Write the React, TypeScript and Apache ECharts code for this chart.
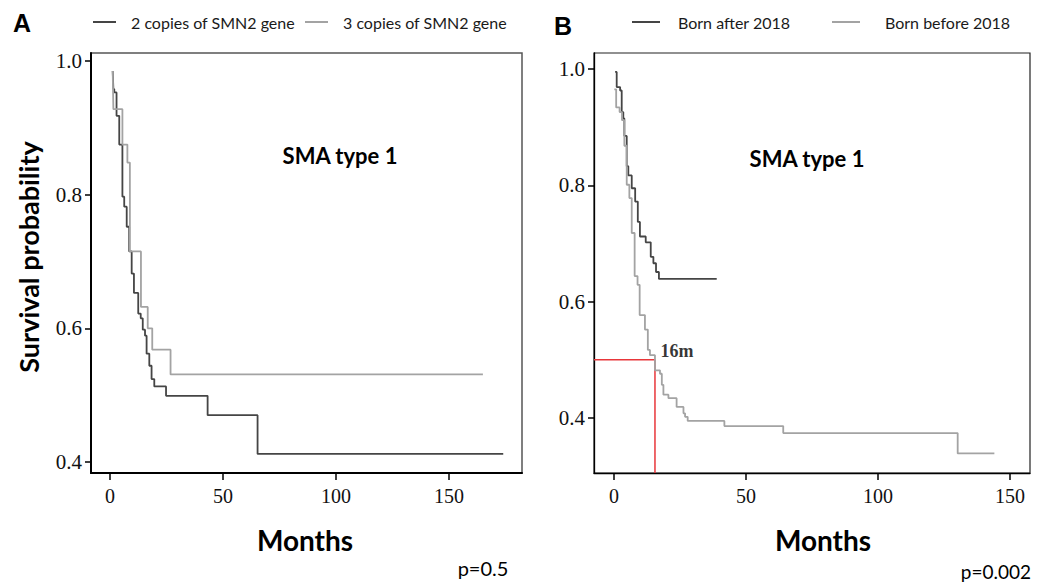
import { useEffect, useRef } from "react";
import * as echarts from "echarts";

// Panel A: SMN2 copy number (months, survival probability)
const twoCopies: [number, number][] = [
  [1.2, 0.985], [1.5, 0.958], [1.9, 0.953], [2.9, 0.918], [4.1, 0.875], [5.5, 0.797],
  [6.3, 0.782], [7.4, 0.752], [8.5, 0.715], [9.6, 0.682], [10.6, 0.653], [12.5, 0.622],
  [13.6, 0.615], [14.5, 0.598], [15.5, 0.589], [16.2, 0.562], [17.4, 0.544], [18.4, 0.524],
  [19.6, 0.513], [24.8, 0.499], [43.2, 0.470], [65.3, 0.412], [174, 0.412],
];
const threeCopies: [number, number][] = [
  [1.2, 0.985], [1.5, 0.928], [5.5, 0.875], [7.7, 0.848], [8.8, 0.715], [13.7, 0.632],
  [16.7, 0.600], [18.7, 0.568], [26.8, 0.531], [165, 0.531],
];

// Panel B: birth cohort
const bornAfter: [number, number][] = [
  [0.4, 0.995], [1.0, 0.969], [2.3, 0.963], [2.9, 0.926], [3.5, 0.915], [3.9, 0.885],
  [4.8, 0.833], [5.4, 0.817], [6.7, 0.795], [8.0, 0.772], [9.0, 0.737], [9.8, 0.712],
  [12.0, 0.702], [13.9, 0.677], [14.9, 0.666], [15.9, 0.651], [17.0, 0.639], [38.9, 0.639],
];
const bornBefore: [number, number][] = [
  [0.1, 0.965], [0.8, 0.934], [2.1, 0.926], [3.0, 0.912], [3.9, 0.868], [4.8, 0.801],
  [5.8, 0.778], [6.7, 0.718], [7.8, 0.644], [8.9, 0.629], [9.7, 0.577], [11.7, 0.552],
  [12.8, 0.517], [13.6, 0.508], [15.5, 0.482], [17.4, 0.476], [18.1, 0.457], [18.7, 0.440],
  [20.6, 0.434], [23.7, 0.419], [26.3, 0.408], [26.9, 0.402], [27.9, 0.395], [41.8, 0.386],
  [64.1, 0.374], [130.2, 0.339], [144.1, 0.339],
];

const medianMonths = 15.5;
const medianSurvival = 0.5;
const medianLabel = "16m";

const monthTicks = [0, 50, 100, 150];
const survTicks = [0.4, 0.6, 0.8, 1.0];

const legendA = ["2 copies of SMN2 gene", "3 copies of SMN2 gene"];
const legendB = ["Born after 2018", "Born before 2018"];

const DARK = "#454545";
const LIGHT = "#a3a3a3";
const SANS = "Lato, 'Open Sans', sans-serif";
const SERIF = "'Liberation Serif', 'DejaVu Serif', serif";

export default function App() {
  const ref = useRef<HTMLDivElement>(null);
  useEffect(() => {
    const chart = echarts.init(ref.current!, null, { renderer: "svg" });
    const xAxisBase = (gridIndex: number, min: number, max: number, lw: number) => ({
      type: "value",
      gridIndex,
      min,
      max,
      axisLine: { show: true, onZero: false, lineStyle: { color: "#000", width: lw } },
      axisTick: { show: true, customValues: monthTicks, length: 7, lineStyle: { color: "#000", width: 1.5 } },
      axisLabel: { customValues: monthTicks, fontFamily: SERIF, fontSize: 20, color: "#111", margin: 13 },
      splitLine: { show: false },
    });
    const yAxisBase = (gridIndex: number, min: number, max: number, lw: number) => ({
      type: "value",
      gridIndex,
      min,
      max,
      axisLine: { show: true, onZero: false, lineStyle: { color: "#000", width: lw } },
      axisTick: { show: true, customValues: survTicks, length: 6, lineStyle: { color: "#000", width: 1.5 } },
      axisLabel: {
        customValues: survTicks,
        fontFamily: SERIF,
        fontSize: 21,
        color: "#111",
        margin: 9,
        formatter: (v: number) => v.toFixed(1),
      },
      splitLine: { show: false },
    });
    const stepSeries = (name: string, data: [number, number][], color: string, idx: number) => ({
      name,
      type: "line",
      step: "end",
      xAxisIndex: idx,
      yAxisIndex: idx,
      data,
      symbol: "none",
      lineStyle: { color, width: 1.8 },
      itemStyle: { color },
      z: 3,
    });
    const legendItem = (name: string, left: number, w: number, pad: number) => ({
      data: [name],
      left,
      top: 9,
      icon: "rect",
      itemWidth: w,
      itemHeight: 2,
      selectedMode: false,
      textStyle: { fontFamily: SANS, fontSize: 16, color: "#1a1a1a", padding: [0, 0, 0, pad] },
    });
    const txt = (text: string, x: number, y: number, size: number, extra: any = {}) => ({
      type: "text",
      x,
      y,
      style: {
        text,
        fontFamily: SANS,
        fontSize: size,
        fontWeight: "bold",
        fill: "#000",
        textAlign: "center",
        textVerticalAlign: "middle",
        ...extra,
      },
    });

    chart.setOption({
      animation: false,
      backgroundColor: "#fff",
      grid: [
        { left: 91, top: 53, width: 431, height: 420, show: true, borderColor: "#555", borderWidth: 1.5 },
        { left: 594, top: 53, width: 436, height: 420, show: true, borderColor: "#222", borderWidth: 1.2 },
      ],
      xAxis: [xAxisBase(0, -8.4, 182.3, 2), xAxisBase(1, -7.6, 157.6, 1.3)],
      yAxis: [yAxisBase(0, 0.3835, 1.012, 2), yAxisBase(1, 0.3054, 1.0275, 1.3)],
      legend: [
        legendItem(legendA[0], 88, 23, 10),
        legendItem(legendA[1], 300, 23, 10),
        legendItem(legendB[0], 627, 28, 13),
        legendItem(legendB[1], 827, 28, 20),
      ],
      series: [
        stepSeries(legendA[0], twoCopies, DARK, 0),
        stepSeries(legendA[1], threeCopies, LIGHT, 0),
        stepSeries(legendB[0], bornAfter, DARK, 1),
        stepSeries(legendB[1], bornBefore, LIGHT, 1),
        {
          type: "line",
          xAxisIndex: 1,
          yAxisIndex: 1,
          data: [
            [-7.6, medianSurvival],
            [medianMonths, medianSurvival],
            [medianMonths, 0.3054],
          ],
          symbol: "none",
          lineStyle: { color: "#e8363a", width: 1.5 },
          z: 2,
        },
        {
          type: "scatter",
          xAxisIndex: 1,
          yAxisIndex: 1,
          data: [[medianMonths, medianSurvival]],
          symbolSize: 1,
          itemStyle: { color: "rgba(0,0,0,0)" },
          label: {
            show: true,
            formatter: medianLabel,
            position: "right",
            distance: 5,
            offset: [0, -9],
            fontFamily: SERIF,
            fontWeight: "bold",
            fontSize: 18,
            color: "#000",
          },
          z: 4,
        },
      ],
      graphic: [
        txt("A", 22, 23, 25, { fontFamily: "'Liberation Sans', Arial, sans-serif" }),
        txt("B", 563, 26, 25, { fontFamily: "'Liberation Sans', Arial, sans-serif" }),
        { ...txt("Survival probability", 28, 257, 27), rotation: Math.PI / 2 },
        txt("SMA type 1", 340, 155, 22),
        txt("SMA type 1", 807, 158, 22),
        txt("Months", 305, 540, 28),
        txt("Months", 823, 540, 28),
        txt("p=0.5", 483, 568, 20, { fontWeight: "normal" }),
        txt("p=0.002", 1031, 571, 19, { fontWeight: "normal", textAlign: "right" }),
      ],
    });
    return () => chart.dispose();
  }, []);
  return (
    <div
      ref={ref}
      style={{ position: "fixed", left: 0, top: 0, width: 1037, height: 582, background: "#fff" }}
    />
  );
}
